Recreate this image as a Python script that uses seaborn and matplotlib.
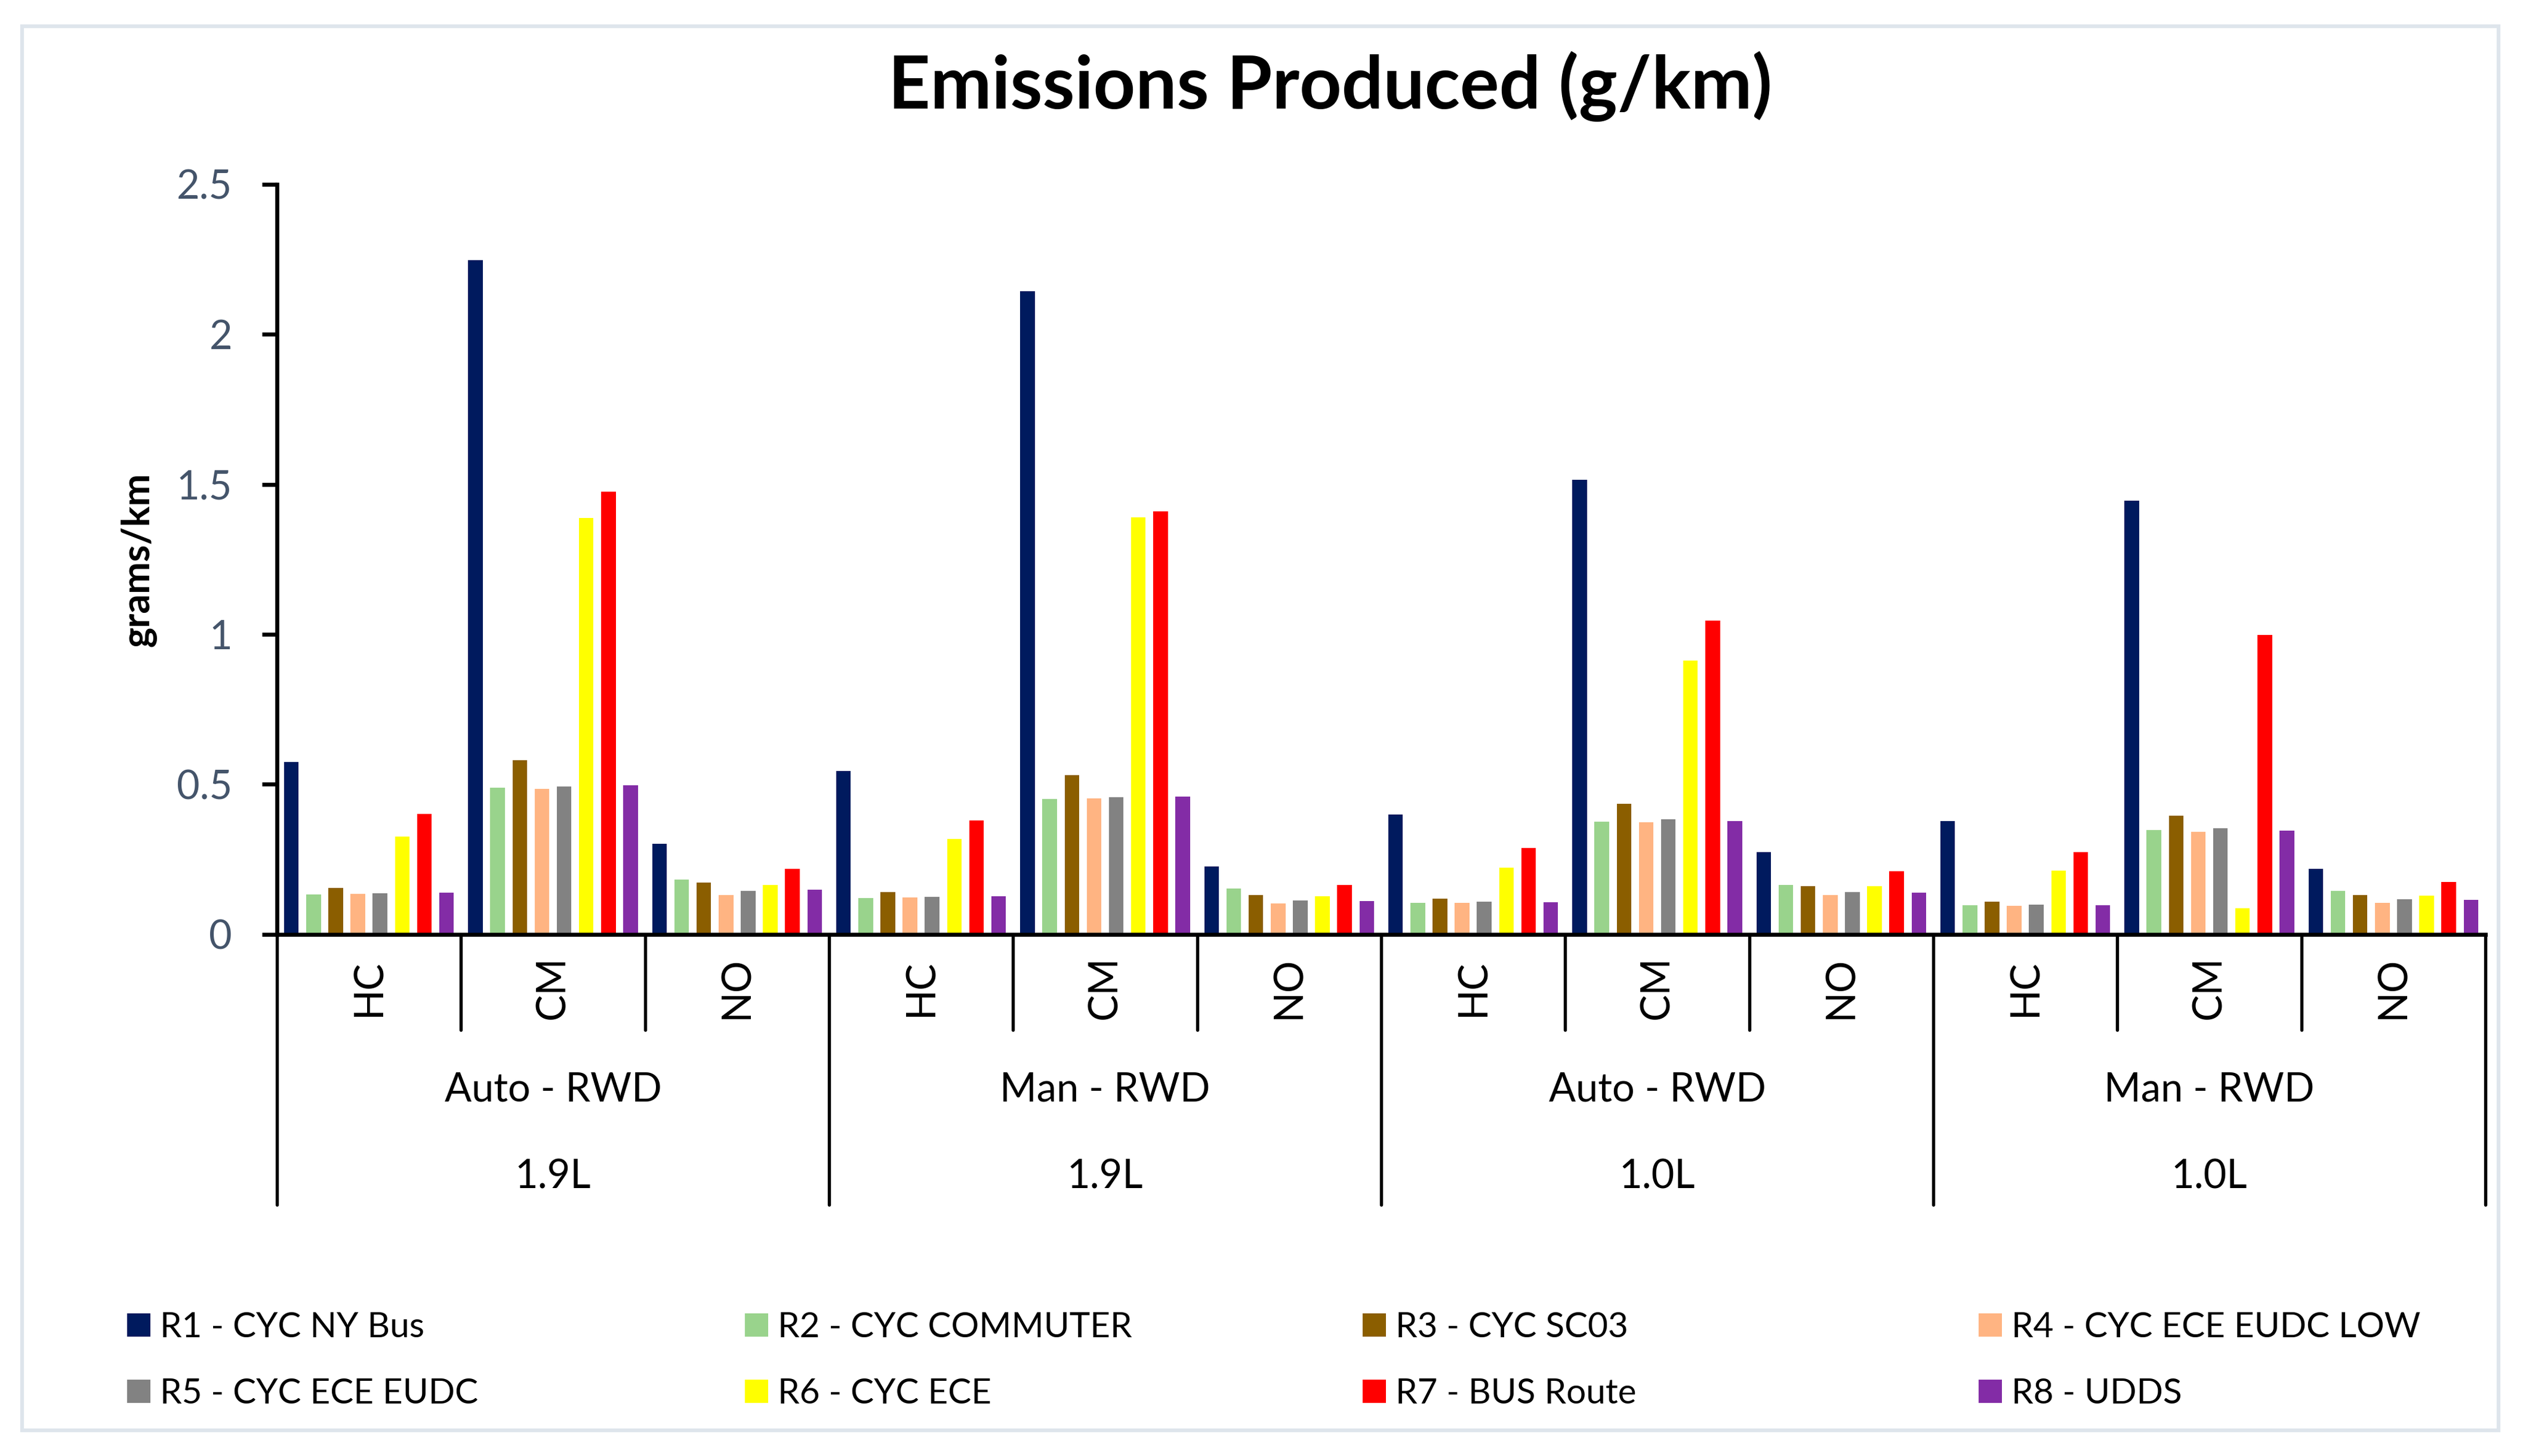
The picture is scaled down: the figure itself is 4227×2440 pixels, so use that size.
import matplotlib
matplotlib.use("Agg")
import matplotlib.pyplot as plt
import matplotlib.transforms as mtransforms
from matplotlib.patches import Rectangle
import pandas as pd
import seaborn as sns

# chart data
groups = ["Auto - RWD", "Man - RWD", "Auto - RWD", "Man - RWD"]
engines = ["1.9L", "1.9L", "1.0L", "1.0L"]
pollutants = ["HC", "CM", "NO"]
cycles = ["R1 - CYC NY Bus", "R2 - CYC COMMUTER", "R3 - CYC SC03", "R4 - CYC ECE EUDC LOW",
          "R5 - CYC ECE EUDC", "R6 - CYC ECE", "R7 - BUS Route", "R8 - UDDS"]

r1 = [0.574, 2.247, 0.301, 0.545, 2.144, 0.226, 0.399, 1.515, 0.274, 0.377, 1.445, 0.219]
r2 = [0.132, 0.488, 0.182, 0.120, 0.450, 0.152, 0.104, 0.375, 0.164, 0.096, 0.348, 0.144]
r3 = [0.154, 0.580, 0.173, 0.140, 0.531, 0.130, 0.118, 0.435, 0.161, 0.108, 0.396, 0.130]
r4 = [0.134, 0.485, 0.130, 0.123, 0.452, 0.103, 0.104, 0.373, 0.130, 0.094, 0.341, 0.104]
r5 = [0.137, 0.493, 0.144, 0.125, 0.457, 0.113, 0.108, 0.384, 0.140, 0.099, 0.353, 0.116]
r6 = [0.325, 1.387, 0.164, 0.317, 1.389, 0.127, 0.223, 0.913, 0.161, 0.212, 0.087, 0.128]
r7 = [0.401, 1.476, 0.219, 0.380, 1.409, 0.164, 0.288, 1.045, 0.211, 0.274, 0.998, 0.175]
r8 = [0.139, 0.497, 0.149, 0.127, 0.459, 0.111, 0.106, 0.378, 0.139, 0.096, 0.346, 0.115]
series = [r1, r2, r3, r4, r5, r6, r7, r8]

colors = ["#001A5E", "#99D38C", "#8B5E00", "#FFB482", "#828282", "#FFFF00", "#FF0000", "#832CA6"]

# long table for seaborn
slots = []
for g, e in zip(groups, engines):
    for p in pollutants:
        slots.append(e + " " + g + " " + p)
rows = []
for name, vals in zip(cycles, series):
    for s, v in zip(slots, vals):
        rows.append({"slot": s, "cycle": name, "value": v})
df = pd.DataFrame(rows)

sns.set_style("white")
plt.rcParams["font.family"] = ["Lato", "DejaVu Sans"]
plt.rcParams["text.color"] = "black"
plt.rcParams["axes.labelcolor"] = "black"

W, H = 4227, 2440
fig = plt.figure(figsize=(W / 300, H / 300), dpi=300)
ax = fig.add_axes([464 / W, 1 - 1565.6 / H, 3700 / W, (1565.6 - 309) / H])

sns.barplot(data=df, x="slot", y="value", hue="cycle", order=slots, hue_order=cycles,
            palette=colors, width=0.964, gap=0.34, linewidth=0, errorbar=None,
            saturation=1, ax=ax)
handles, labels = ax.get_legend_handles_labels()
ax.get_legend().remove()

ax.set_xlim(-0.5, len(slots) - 0.5)
ax.set_ylim(0, 2.5)
ax.set_yticks([0, 0.5, 1, 1.5, 2, 2.5])
ax.set_yticklabels(["0", "0.5", "1", "1.5", "2", "2.5"])
ax.set_xlabel("")
ax.set_ylabel("")
ax.tick_params(axis="x", bottom=False, labelbottom=False)
ax.tick_params(axis="y", left=True, length=6, width=1.6, pad=12, labelsize=16,
               labelcolor="#44546A", color="black")
sns.despine(ax=ax, top=True, right=True)
for sp in ["left", "bottom"]:
    ax.spines[sp].set_linewidth(1.6)
    ax.spines[sp].set_color("black")

# multi level category axis
tr = mtransforms.blended_transform_factory(ax.transData, fig.transFigure)
y_axis = 1 - 1565.6 / H
for i, p in enumerate(slots):
    ax.text(i, 1 - 1655 / H, p.split()[-1], rotation=90, ha="center", va="center",
            fontsize=16, color="black", transform=tr)
for k in range(len(slots) + 1):
    x = k - 0.5
    y_end = 1 - 2019 / H if k % 3 == 0 else 1 - 1726 / H
    ax.plot([x, x], [y_axis, y_end], color="black", lw=1.3, transform=tr, clip_on=False)
for j, (g, e) in enumerate(zip(groups, engines)):
    xc = j * 3 + 1
    ax.text(xc, 1 - 1846 / H, g, ha="center", va="baseline", fontsize=16, color="black",
            transform=tr)
    ax.text(xc, 1 - 1992 / H, e, ha="center", va="baseline", fontsize=16, color="black",
            transform=tr)

fig.text(232 / W, 1 - 938 / H, "grams/km", rotation=90, ha="center", va="center",
         fontsize=15.5, fontweight="bold", color="black")
fig.text(2229 / W, 1 - 182 / H, "Emissions Produced (g/km)", ha="center", va="baseline",
         fontsize=29.5, fontweight="bold", color="black")

# legend, one block per column
col_x = [213, 1248, 2283, 3315]
for c in range(4):
    leg = fig.legend([handles[c], handles[c + 4]], [labels[c], labels[c + 4]],
                     loc="center left", bbox_to_anchor=(col_x[c] / W, 1 - 2280 / H),
                     frameon=False, fontsize=14, handlelength=0.66, handleheight=0.66,
                     handletextpad=0.28, labelspacing=1.0, borderpad=0, borderaxespad=0,
                     labelcolor="black")

# outer frame
fig.patches.append(Rectangle((37 / W, 1 - 2397 / H), (4186 - 37) / W, (2397 - 44) / H,
                             transform=fig.transFigure, fill=False,
                             edgecolor="#DEE5EC", linewidth=1.5))

fig.savefig("out.png", dpi=300, facecolor="white")
